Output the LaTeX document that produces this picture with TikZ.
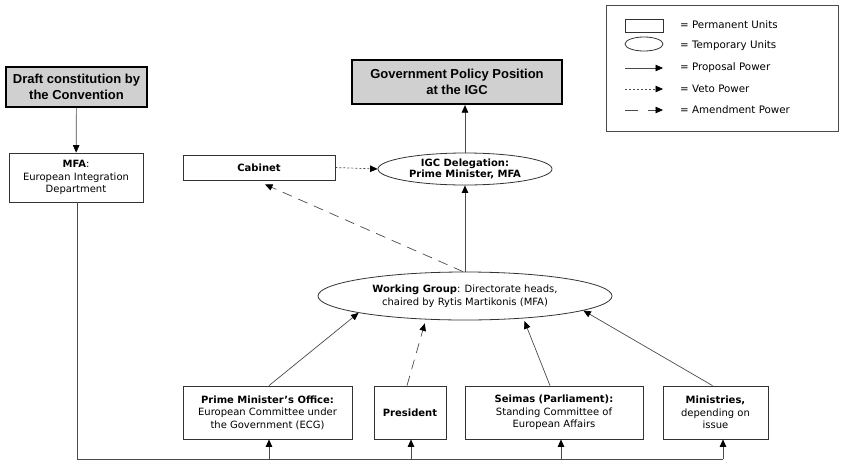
\documentclass[tikz,border=0pt]{standalone}
\usepackage{fontspec}
\setmainfont{DejaVu Sans}
\newfontfamily\headfont{Liberation Sans}
\usetikzlibrary{arrows.meta,shapes.geometric,calc}
\definecolor{lnc}{HTML}{4A4A4A}
\definecolor{boxc}{HTML}{333333}
\definecolor{headfill}{HTML}{D0D0D0}
\begin{document}
\begin{tikzpicture}[x=1pt,y=-1pt,
  every node/.style={font=\fontsize{10}{12.5}\selectfont, align=center, inner sep=0pt},
  perm/.style={draw=boxc, line width=0.8pt, rectangle},
  temp/.style={draw=boxc, line width=0.8pt, ellipse},
  headbox/.style={draw=black, line width=2.2pt, fill=headfill, rectangle,
    font=\headfont\bfseries\fontsize{13}{16}\selectfont},
  arr/.style={draw=lnc, line width=0.7pt, -{Triangle[length=7.5pt,width=6.5pt,color=black,fill=black]}},
  plain/.style={draw=lnc, line width=0.7pt},
  vetoline/.style={arr, dash pattern=on 2pt off 2pt},
  amendline/.style={arr, dash pattern=on 10pt off 7pt},
  legtext/.style={anchor=west, font=\fontsize{10.3}{12.5}\selectfont},
]
\useasboundingbox (0,0) rectangle (844,464);

% header boxes
\node[headbox, minimum width=141pt, minimum height=40pt] (draft) at (76.5,87) {Draft constitution by\\the Convention};
\node[headbox, minimum width=210pt, minimum height=44pt] (gov) at (457,82) {Government Policy Position\\at the IGC};

% permanent units
\node[perm, minimum width=134pt, minimum height=49pt] (mfa) at (76,177.5) {\textbf{MFA}:\\European Integration\\Department};
\node[perm, minimum width=152pt, minimum height=25pt] (cab) at (259,167.5) {\textbf{Cabinet}};
\node[perm, minimum width=169pt, minimum height=53pt] (pm) at (267.5,412.5) {\textbf{Prime Minister’s Office:}\\European Committee under\\the Government (ECG)};
\node[perm, minimum width=72pt, minimum height=53pt] (pres) at (410,412.5) {\textbf{President}};
\node[perm, minimum width=178pt, minimum height=53pt] (seim) at (554,412.5) {\textbf{Seimas (Parliament):}\\Standing Committee of\\European Affairs};
\node[perm, minimum width=105pt, minimum height=53pt] (mini) at (715.5,412.5) {\textbf{Ministries,}\\depending on\\issue};

% temporary units
\node[temp, minimum width=174pt, minimum height=32pt, font=\fontsize{10}{11.5}\selectfont] (igc) at (465,169) {\textbf{IGC Delegation:}\\\textbf{Prime Minister, MFA}};
\node[temp, minimum width=294pt, minimum height=48pt] (wg) at (465,296) {\textbf{Working Group}: Directorate heads,\\chaired by Rytis Martikonis (MFA)};

% connectors top
\draw[arr] (draft) -- (mfa);
\draw[arr] (igc.north) -- (igc.north |- gov.south);
\draw[vetoline] (cab.east) -- (igc.west);
\draw[arr] (wg.north) -- (igc.south);
\coordinate (cabtip) at ($(cab.south)+(6,4)$);
\draw[amendline] ($(wg.north)+(-2,0)$) -- (cabtip);

% bottom line
\coordinate (b0) at (77,459);
\coordinate (b1) at (269,459);
\coordinate (b2) at (411,459);
\coordinate (b3) at (561,459);
\coordinate (b4) at (723,459);
\draw[plain] (mfa.south -| b0) -- (b0) -- (b4);
\draw[arr] (b1) -- (b1 |- pm.south);
\draw[arr] (b2) -- (b2 |- pres.south);
\draw[arr] (b3) -- (b3 |- seim.south);
\draw[arr] (b4) -- (b4 |- mini.south);

% bottom to working group
\draw[arr] (pm.north -| b1) -- (wg.189);
\draw[amendline, shorten >=4pt] ($(pres.north)+(-3,0)$) -- (wg.211);
\draw[arr, shorten >=3pt] ($(seim.north)+(-4,0)$) -- (wg.339);
\draw[arr] ($(mini.north)+(-3,0)$) -- (wg.353);

% legend
\draw[draw=lnc, line width=0.7pt] (606,5) rectangle (838,131);
\draw[draw=boxc, line width=0.8pt] (625,19) rectangle (663,32);
\draw[draw=boxc, line width=0.8pt] (644,44) ellipse [x radius=19pt, y radius=7pt];
\coordinate (l1a) at (625,68); \coordinate (l1b) at (663,68);
\coordinate (l2a) at (625,89); \coordinate (l2b) at (663,89);
\coordinate (l3a) at (625,110); \coordinate (l3m) at (638,110);
\coordinate (l3c) at (648,110); \coordinate (l3b) at (663,110);
\draw[arr] (l1a) -- (l1b);
\draw[vetoline] (l2a) -- (l2b);
\draw[plain] (l3a) -- (l3m);
\draw[arr] (l3c) -- (l3b);
\node[legtext] (t1) at (680,25) {= Permanent Units};
\node[legtext] (t2) at (680,46) {= Temporary Units};
\node[legtext] (t3) at (680,68) {= Proposal Power};
\node[legtext] (t4) at (680,89) {= Veto Power};
\node[legtext] (t5) at (680,110) {= Amendment Power};
\end{tikzpicture}
\end{document}
